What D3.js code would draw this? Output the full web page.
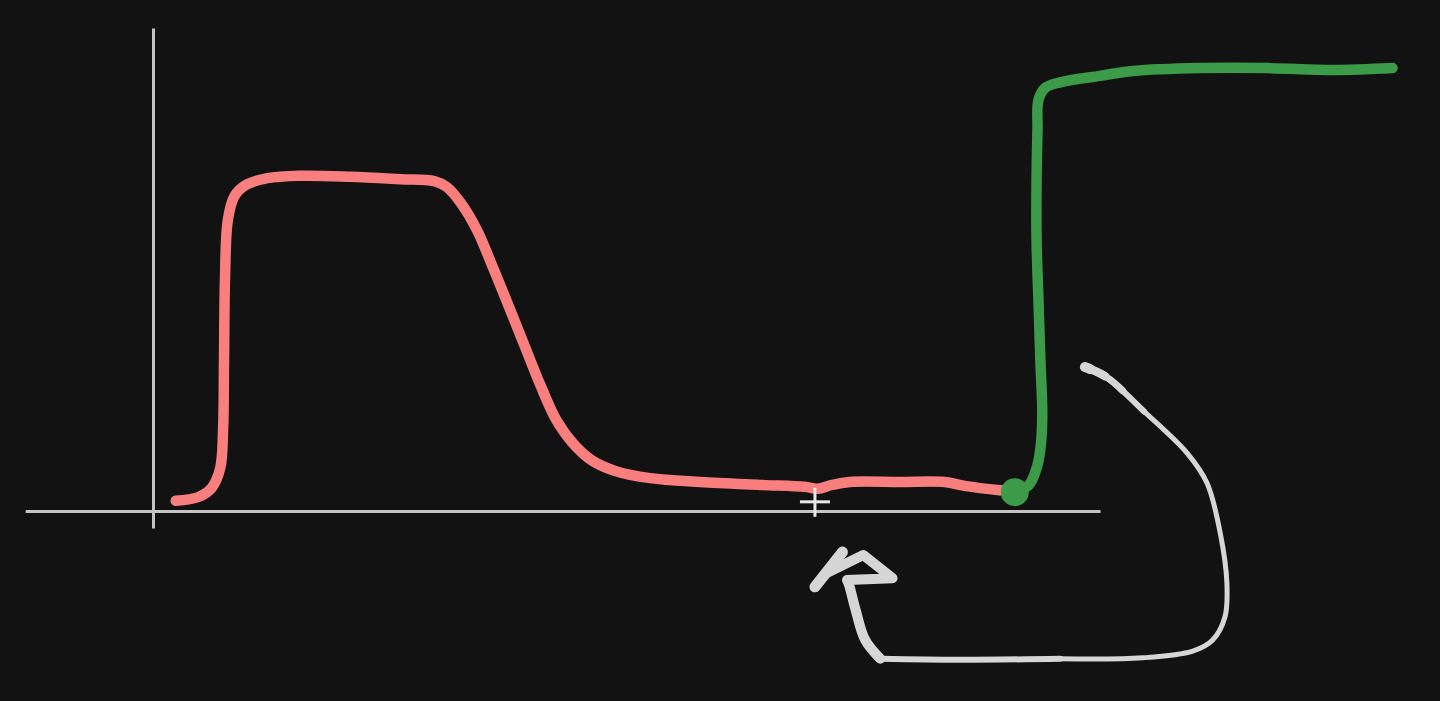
<!DOCTYPE html>
<html>
<head>
<meta charset="utf-8">
<script src="https://cdn.jsdelivr.net/npm/d3@7"></script>
<style>
  html, body { margin: 0; padding: 0; background: #121212; overflow: hidden; }
  svg { display: block; }
</style>
</head>
<body>
<svg id="chart" width="1440" height="701"></svg>
<script>
// ---- data (time units on x, level units on y) ----
const redCurve = [
  [2.4,2.1],[4.8,2.9],[6.2,4.8],[7.1,8.9],[7.4,16.8],[7.5,31.3],[7.6,47.8],[7.9,60.2],
  [8.6,65.2],[9.8,67.5],[12.1,68.9],[15.5,69.4],[20.8,69.2],[26.1,68.7],[29.7,68.3],
  [31.0,67.1],[32.5,63.8],[34.2,58.2],[35.8,50.9],[37.5,42.7],[39.2,34.4],[40.9,26.1],
  [42.6,18.8],[44.4,13.9],[46.4,10.4],[48.8,8.3],[52.5,6.8],[57.8,6.0],[64.1,5.4],
  [68.8,5.0],[70.2,4.6],[71.7,5.4],[73.6,6.0],[78.9,6.0],[83.6,6.0],[85.7,5.2],
  [89.4,4.3],[90.7,4.1]
];
const greenCurve = [
  [91.0,3.9],[92.5,5.4],[93.4,9.5],[93.8,14.7],[93.9,20.9],[93.7,31.3],[93.5,43.7],
  [93.3,56.1],[93.3,68.5],[93.4,78.9],[93.5,85.1],[94.2,87.6],[95.9,88.8],[100,90.1],
  [103.5,91.1],[110.6,91.7],[117.6,91.7],[124.6,91.3],[130.9,91.7]
];
const greenDot = [91.0, 3.9];
const cursorMark = [69.9, 1.9];
// annotation arrow (hand-drawn return arrow)
const arrowArc = [
  [98.4,29.8],[100.7,27.7],[104.5,20.9],[109.2,12.0],[111.3,5.8],[112.7,-4.6],[113.4,-14.9],
  [113.2,-21.9],[111.9,-26.7],[109.8,-29.0],[104.5,-30.4],[95.8,-30.6]
];
const arrowBottom = [[95.8,-30.6],[85.2,-30.8],[76.8,-30.6]];
const arrowShaft = [[76.8,-30.6],[75.2,-26.7],[74.2,-20.5],[73.5,-15.3],[73.3,-14.3]];
const arrowHeadLoop = [[73.3,-14.3],[78.1,-13.9],[75.0,-9.1],[71.2,-12.8]];
const arrowHeadStroke = [[72.8,-8.5],[69.9,-15.7]];
// axis extents
const xAxisExtent = [-13.5, 100];
const yAxisExtent = [-3.5, 100];

// ---- scales ----
const x = d3.scaleLinear().domain([0, 100]).range([153, 1100]);
const y = d3.scaleLinear().domain([0, 100]).range([511, 28]);

const svg = d3.select("#chart");
svg.append("rect").attr("width", 1440).attr("height", 701).attr("fill", "#121212");

// ---- axes (no ticks, just the hand-drawn lines) ----
const xa = x.copy().domain(xAxisExtent).range(xAxisExtent.map(x));
const ya = y.copy().domain(yAxisExtent).range(yAxisExtent.map(y));
const gx = svg.append("g").attr("transform", `translate(0,${y(0)})`)
  .call(d3.axisBottom(xa).ticks(0).tickSizeOuter(0));
const gy = svg.append("g").attr("transform", `translate(${x(0)},0)`)
  .call(d3.axisLeft(ya).ticks(0).tickSizeOuter(0));
[gx, gy].forEach(g => {
  g.selectAll(".tick").remove();
  g.select(".domain").attr("stroke", "#c4c4c4").attr("stroke-width", 3);
});

const smooth = d3.line().x(d => x(d[0])).y(d => y(d[1])).curve(d3.curveCatmullRom.alpha(0.5));
const straight = d3.line().x(d => x(d[0])).y(d => y(d[1]));

// ---- red curve ----
svg.append("path").datum(redCurve).attr("d", smooth)
  .attr("fill", "none").attr("stroke", "#f97f7f").attr("stroke-width", 10.5)
  .attr("stroke-linecap", "round").attr("stroke-linejoin", "round");

// ---- green curve ----
svg.append("path").datum(greenCurve).attr("d", smooth)
  .attr("fill", "none").attr("stroke", "#3b9b48").attr("stroke-width", 10.5)
  .attr("stroke-linecap", "round").attr("stroke-linejoin", "round");
svg.append("circle").attr("cx", x(greenDot[0])).attr("cy", y(greenDot[1]))
  .attr("r", 14).attr("fill", "#3b9b48");

// ---- cursor mark ----
const cg = svg.append("g").attr("stroke", "#e8e8e8").attr("stroke-width", 3);
cg.append("line").attr("x1", x(cursorMark[0]) - 15).attr("x2", x(cursorMark[0]) + 15)
  .attr("y1", y(cursorMark[1])).attr("y2", y(cursorMark[1]));
cg.append("line").attr("x1", x(cursorMark[0])).attr("x2", x(cursorMark[0]))
  .attr("y1", y(cursorMark[1]) - 14).attr("y2", y(cursorMark[1]) + 15);

// ---- annotation arrow ----
const arrowColor = "#d6d6d6";
function stroke(data, gen, w, dash) {
  const p = svg.append("path").datum(data).attr("d", gen)
    .attr("fill", "none").attr("stroke", arrowColor).attr("stroke-width", w)
    .attr("stroke-linecap", "round").attr("stroke-linejoin", "round");
  if (dash) p.attr("stroke-dasharray", dash);
}
// tapered start: same path, wider only over its first pixels
stroke(arrowArc, smooth, 5);
stroke(arrowArc, smooth, 6, "75 3000");
stroke(arrowArc, smooth, 7, "45 3000");
stroke(arrowArc, smooth, 8.5, "22 3000");
stroke(arrowArc, smooth, 10, "6 3000");
stroke(arrowBottom, smooth, 6);
stroke(arrowShaft, smooth, 10);
stroke(arrowHeadLoop, straight, 10);
stroke(arrowHeadStroke, straight, 11);
</script>
</body>
</html>
